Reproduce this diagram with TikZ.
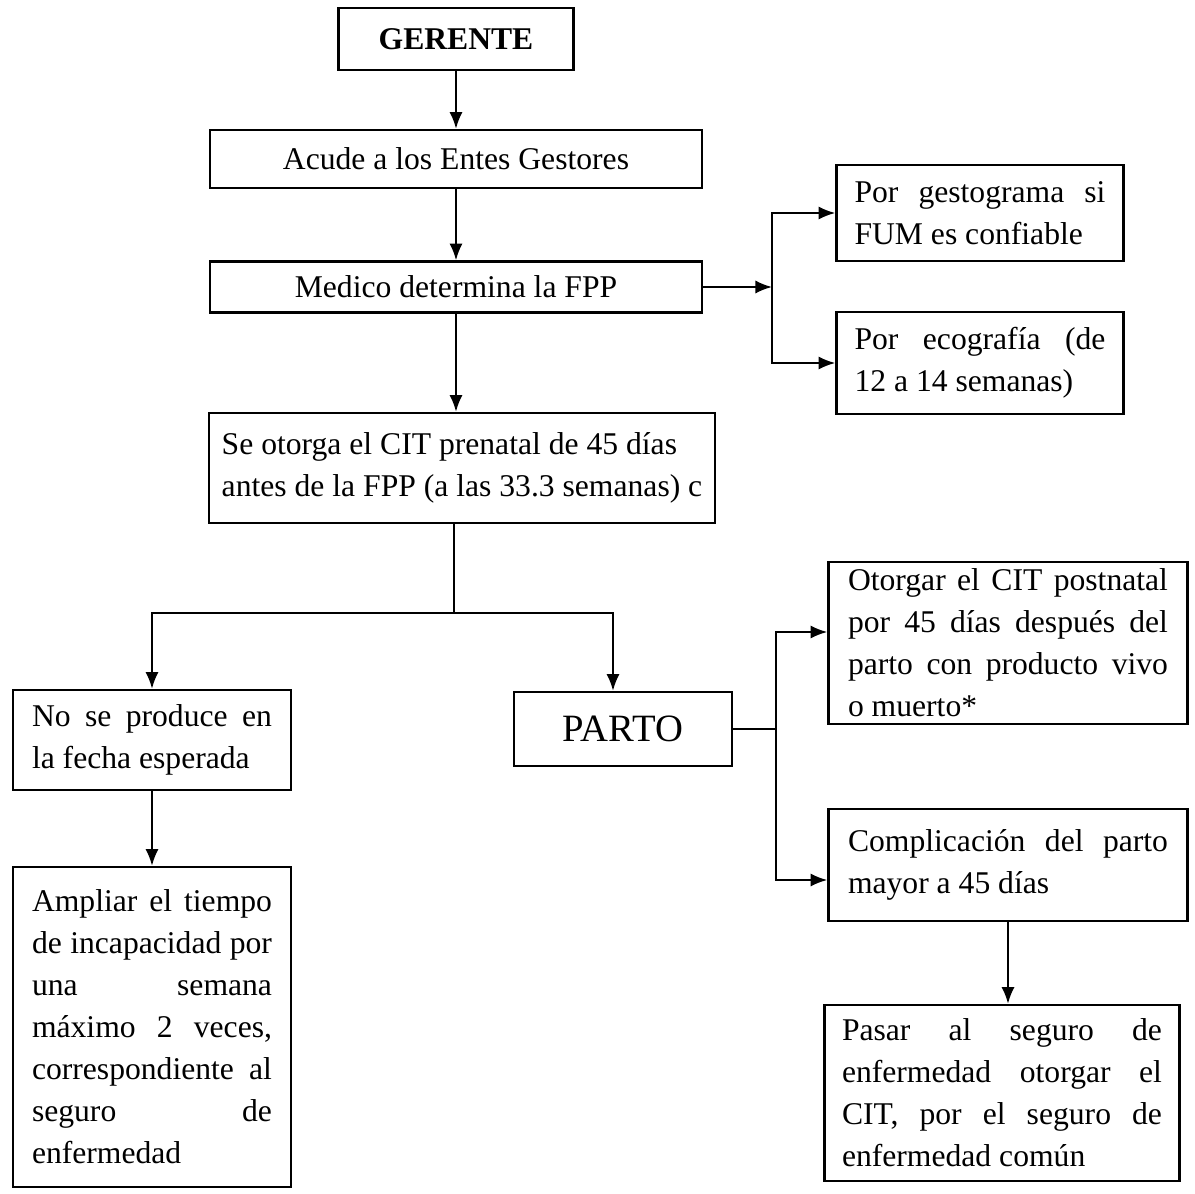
\documentclass[tikz,border=0pt]{standalone}
\usepackage{fontspec}
\setmainfont{Liberation Serif}
\usetikzlibrary{calc,arrows.meta,positioning}
\tikzset{
    block/.style = {draw, rectangle, line width=1.3pt,
        inner sep=0pt, align=center},
    jblock/.style = {block, align=justify},
    arrow/.style = {draw, line width=1.3pt, -{Latex[length=9.5pt,width=7.5pt]}},
    line/.style = {draw, line width=1.3pt}
}
\newcommand{\bodyfont}{\fontsize{18}{23.9}\selectfont}

\begin{document}
\begin{tikzpicture}[auto, node distance=2.4cm, font=\bodyfont]
        \useasboundingbox (0,0) rectangle (23.9,-23.88);
        % central column
        \node [block, minimum width=4.7cm, minimum height=1.24cm, font=\bodyfont\bfseries] at (9.12,-0.78) (gerente) {GERENTE};
        \node [block, below of=gerente, minimum width=9.84cm, minimum height=1.16cm] (acude) {Acude a los Entes Gestores};
        \draw[arrow] (gerente) -- (acude);
        \node [block, below of=acude, node distance=2.56cm, minimum width=9.84cm, minimum height=1.02cm] (medico) {Medico determina la FPP};
        \draw[arrow] (acude) -- (medico);
        \node [block, align=left, below of=medico, node distance=3.62cm, xshift=0.12cm, minimum width=10.12cm, minimum height=2.2cm] (cit) {Se otorga el CIT prenatal de 45 días\\antes de la FPP (a las 33.3 semanas) c};
        \draw[arrow] (medico) -- (medico |- cit.north);
        % FPP options
        \node [jblock, text width=5.02cm, right of=medico, node distance=10.48cm, yshift=1.48cm, minimum width=5.74cm, minimum height=1.92cm] (gesto) {Por gestograma si\linebreak FUM es confiable};
        \node [jblock, text width=5.02cm, below of=gesto, node distance=3cm, minimum width=5.74cm, minimum height=2.04cm] (eco) {Por ecografía (de\linebreak 12 a 14 semanas)};
        \coordinate [right=1.38cm of medico.east] (mbr);
        \draw[arrow] (medico.east) -- (mbr);
        \draw[arrow] (mbr) |- (gesto.west);
        \draw[arrow] (mbr) |- (eco.west);
        % split after CIT
        \draw[line] ([xshift=-0.16cm]cit.south) -- ++(0,-1.78) coordinate (split);
        \node [jblock, text width=4.8cm, at={(3.04,-14.8)}, minimum width=5.56cm, minimum height=2cm] (noprod) {No se produce en\linebreak la fecha esperada};
        \node [block, right of=noprod, node distance=9.42cm, yshift=0.22cm, minimum width=4.36cm, minimum height=1.48cm, font=\fontsize{22}{26}\selectfont] (parto) {PARTO};
        \draw[arrow] (split) -| (noprod.north);
        \draw[arrow] (split) -| ([xshift=-0.2cm]parto.north);
        \node [jblock, text width=4.8cm, below of=noprod, node distance=5.74cm, minimum width=5.56cm, minimum height=6.4cm] (ampliar) {Ampliar el tiempo\linebreak de incapacidad por\linebreak una semana\linebreak máximo 2 veces,\linebreak correspondiente al\linebreak seguro de\linebreak enfermedad};
        \draw[arrow] (noprod) -- (ampliar);
        % after PARTO
        \node [jblock, text width=6.4cm, right of=parto, node distance=7.7cm, yshift=1.72cm, minimum width=7.18cm, minimum height=3.24cm] (otorgar) {Otorgar el CIT postnatal\linebreak por 45 días después del\linebreak parto con producto vivo\linebreak o muerto*};
        \node [jblock, text width=6.4cm, below of=otorgar, node distance=4.44cm, minimum width=7.18cm, minimum height=2.24cm] (compl) {Complicación del parto\linebreak mayor a 45 días};
        \node [jblock, text width=6.4cm, below of=compl, node distance=4.56cm, xshift=-0.12cm, minimum width=7.1cm, minimum height=3.52cm] (pasar) {Pasar al seguro de\linebreak enfermedad otorgar el\linebreak CIT, por el seguro de\linebreak enfermedad común};
        \coordinate [right=0.86cm of parto.east] (pbr);
        \draw[line] (parto.east) -- (pbr);
        \draw[arrow] (pbr) |- ([yshift=0.22cm]otorgar.west);
        \draw[arrow] (pbr) |- ([yshift=-0.3cm]compl.west);
        \draw[arrow] (compl.south) -- (compl.south |- pasar.north);
\end{tikzpicture}
\end{document}
